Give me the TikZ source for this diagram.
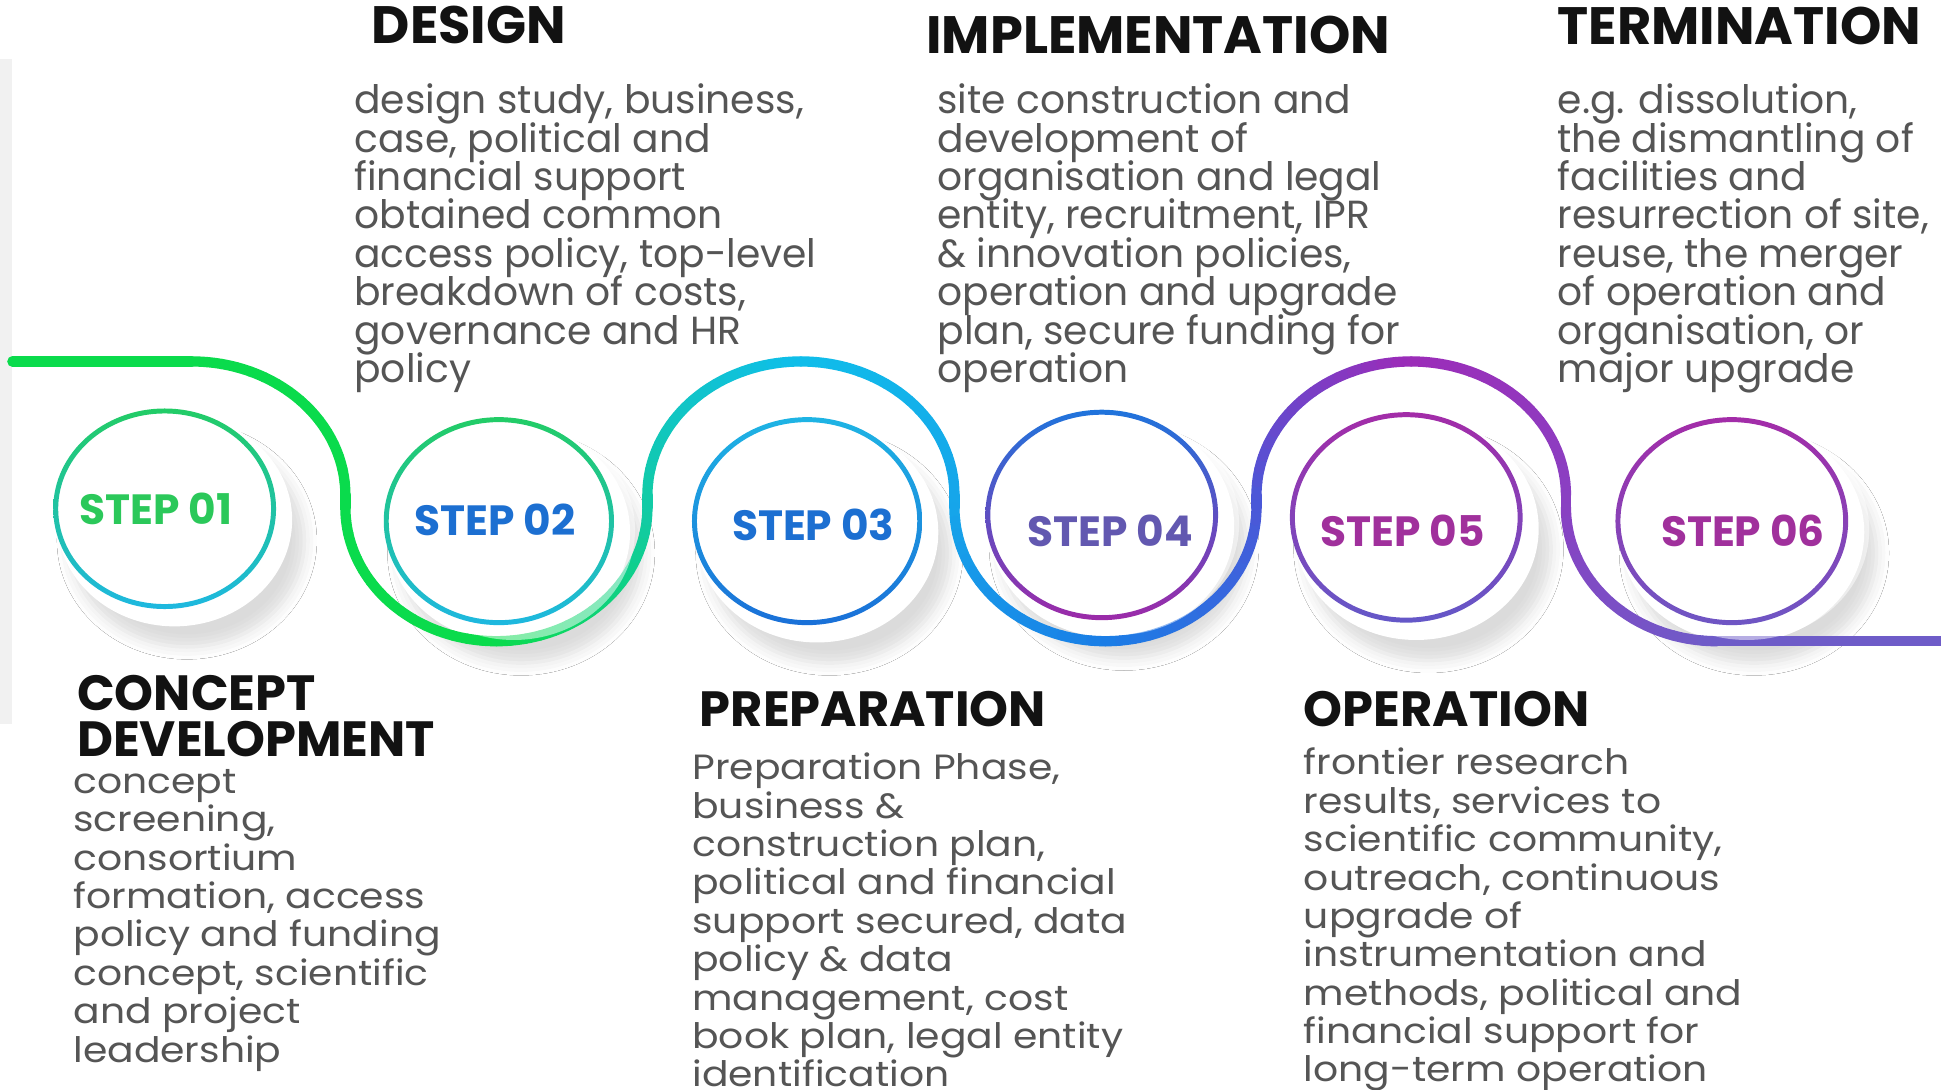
\documentclass[tikz,border=0pt]{standalone}
\usepackage{fontspec}
\setmainfont{Poppins}
\newfontfamily\widefont[FakeStretch=1.12]{Poppins}
\usetikzlibrary{shadows.blur}

% wave colours, left to right
\definecolor{wgA}{HTML}{0ADB4C}
\definecolor{wgC}{HTML}{12CBA6}
\definecolor{wgD}{HTML}{0FBEEA}
\definecolor{wgE}{HTML}{16A6EA}
\definecolor{wgF}{HTML}{1A7EE6}
\definecolor{wgG}{HTML}{4A58D8}
\definecolor{wgH}{HTML}{9C2CB8}
\definecolor{wgI}{HTML}{8A40C2}
\definecolor{wgJ}{HTML}{6E5CC8}
% rings (top / bottom) and labels
\definecolor{rtA}{HTML}{22CC66}\definecolor{rbA}{HTML}{1EB8E0}
\definecolor{rtC}{HTML}{1EB4E4}\definecolor{rbC}{HTML}{1A70D8}
\definecolor{rtD}{HTML}{1F74DC}\definecolor{rbD}{HTML}{9C2AA8}
\definecolor{rtE}{HTML}{A32CA8}\definecolor{rbE}{HTML}{6458C8}
\definecolor{rbF}{HTML}{6E56C4}
\definecolor{lbA}{HTML}{2BC85A}
\definecolor{lbB}{HTML}{1C6FD1}
\definecolor{lbD}{HTML}{6258B0}
\definecolor{lbE}{HTML}{A0309C}
\definecolor{stripgrey}{HTML}{F1F1F1}
\definecolor{bodygrey}{HTML}{555555}

\begin{document}
\begin{tikzpicture}[x=0.6pt, y=0.6pt]

	\tikzset{
		wave/.style={line width=5pt, line cap=round},
		disk/.style={fill=white, draw=none},
		steplbl/.style={inner sep=0pt, font=\fontsize{20.5}{24}\selectfont\bfseries},
		head/.style={anchor=base west, inner sep=0pt, align=left, text=black!93, font=\fontsize{24}{22.2}\selectfont\lineskiplimit-20pt\bfseries},
		tophead/.style={head, font=\fontsize{25.5}{30}\selectfont\bfseries},
		body/.style={anchor=base west, inner sep=0pt, align=left, text=bodygrey, font=\widefont\fontsize{17}{18.6}\selectfont\lineskiplimit-20pt},
		topbody/.style={body, font=\fontsize{19}{18.6}\selectfont\lineskiplimit-20pt}
	}

	% ---------------------------
	% Helper macro: one elliptic arc of the wave, colour blended from #7 to #8
	% (#1,#2 centre, #3/#4 radii, #5 -> #6 angles)
	% ---------------------------
	\newcommand{\wavearc}[8]{%
		\foreach \k in {1,...,16} {
			\pgfmathsetmacro{\wsa}{#5+(#6-#5)*(\k-1)/16}
			\pgfmathsetmacro{\wea}{#5+(#6-#5)*\k/16}
			\pgfmathsetmacro{\wmx}{100-100*(\k-0.5)/16}
			\draw[wave, draw=#7!\wmx!#8] (#1,#2) ++(\wsa:#3 and #4)
				arc[start angle=\wsa, end angle=\wea, x radius=#3, y radius=#4];
		}
	}

	\useasboundingbox (0,0) rectangle (1568,880);
	\fill[white] (0,0) rectangle (1568,880);
	\fill[stripgrey] (0,295) rectangle (10,832);

	% ---------------------------
	% White disks with shadow
	% ---------------------------
	\foreach \cx/\cy/\rx/\ry in {133/469/90/81, 403/459/93/84, 652/459/93/84, 890/464/94/85, 1136/462/94/85, 1399/459/94/84}
	{
		\fill[disk, blur shadow={shadow xshift=6pt, shadow yshift=-10pt, shadow blur radius=6pt, shadow opacity=14}]
			(\cx+8,\cy-9) ellipse [x radius=\rx+5, y radius=\ry+5];
	}

	% ---------------------------
	% The wave
	% ---------------------------
	\draw[wave, draw=wgA] (10,588) -- (155,588);
	\wavearc{155}{480}{124}{108}{90}{0}{wgA}{wgA}
	\draw[wave, draw=wgA] (279,480) -- (279,470);
	\wavearc{401}{470}{122}{108}{180}{270}{wgA}{wgA}
	\wavearc{401}{470}{122}{108}{270}{360}{wgA}{wgC}
	\draw[wave, draw=wgC] (523,470) -- (523,480);
	\wavearc{647}{480}{124}{108}{180}{90}{wgC}{wgD}
	\wavearc{647}{480}{124}{108}{90}{0}{wgD}{wgE}
	\draw[wave, draw=wgE] (771,480) -- (771,470);
	\wavearc{893}{470}{122}{108}{180}{270}{wgE}{wgF}
	\wavearc{893}{470}{122}{108}{270}{360}{wgF}{wgG}
	\draw[wave, draw=wgG] (1015,470) -- (1015,480);
	\wavearc{1140}{480}{125}{108}{180}{90}{wgG}{wgH}
	\wavearc{1140}{480}{125}{108}{90}{0}{wgH}{wgI}
	\draw[wave, draw=wgI] (1265,480) -- (1265,470);
	\wavearc{1387}{470}{122}{108}{180}{270}{wgI}{wgJ}
	\draw[wave, draw=wgJ] (1387,362) -- (1568,362);

	% disks fade the wave where they overlap
	\foreach \cx/\cy/\rx/\ry in {403/459/93/84, 890/464/94/85, 1399/459/94/84}
	{
		\fill[disk, fill opacity=0.5] (\cx+12,\cy-7) ellipse [x radius=\rx+5, y radius=\ry+5];
	}

	% ---------------------------
	% Rings and step labels
	% ---------------------------
	\foreach \n/\cx/\cy/\rx/\ry/\ct/\cb/\lx/\ly/\lc in {
		1/133/469/90/81/rtA/rbA/126/469/lbA,
		2/403/459/93/84/rtA/rbA/400/460/lbB,
		3/652/459/93/84/rtC/rbC/657/456/lbB,
		4/890/464/94/85/rtD/rbD/897/451/lbD,
		5/1136/462/94/85/rtE/rbE/1133/451/lbE,
		6/1399/459/94/84/rtE/rbF/1408/451/lbE}
	{
		\shade[top color=\ct, bottom color=\cb, even odd rule]
			(\cx,\cy) ellipse [x radius=\rx, y radius=\ry]
			(\cx,\cy) ellipse [x radius=\rx-4, y radius=\ry-4];
		\node[steplbl, text=\lc] (s\n) at (\lx,\ly) {STEP 0\n};
	}

	% ---------------------------
	% Phase titles and texts (anchored at the last baseline)
	% ---------------------------
	\node[tophead] (hd-design) at (300,845) {DESIGN};
	\node[tophead] (hd-impl) at (748,837) {IMPLEMENTATION};
	\node[tophead] (hd-term) at (1258,844) {TERMINATION};

	\node[topbody] (tx-design) at (286,571) {design study, business,\\case, political and\\financial support\\obtained common\\access policy, top-level\\breakdown of costs,\\governance and HR\\policy};
	\node[topbody] (tx-impl) at (757,571) {site construction and\\development of\\organisation and legal\\entity, recruitment, IPR\\\& innovation policies,\\operation and upgrade\\plan, secure funding for\\operation};
	\node[topbody] (tx-term) at (1258,571) {e.g. dissolution,\\the dismantling of\\facilities and\\resurrection of site,\\reuse, the merger\\of operation and\\organisation, or\\major upgrade};

	\node[head] (hd-concept) at (62,269) {CONCEPT\\DEVELOPMENT};
	\node[head] (hd-prep) at (565,293) {PREPARATION};
	\node[head] (hd-oper) at (1053,293) {OPERATION};

	\node[body] (tx-concept) at (59,22) {concept\\screening,\\consortium\\formation, access\\policy and funding\\concept, scientific\\and project\\leadership};
	\node[body] (tx-prep) at (559,2) {Preparation Phase,\\business \&\\construction plan,\\political and financial\\support secured, data\\policy \& data\\management, cost\\book plan, legal entity\\identification};
	\node[body] (tx-oper) at (1053,6) {frontier research\\results, services to\\scientific community,\\outreach, continuous\\upgrade of\\instrumentation and\\methods, political and\\financial support for\\long-term operation};

\end{tikzpicture}
\end{document}
